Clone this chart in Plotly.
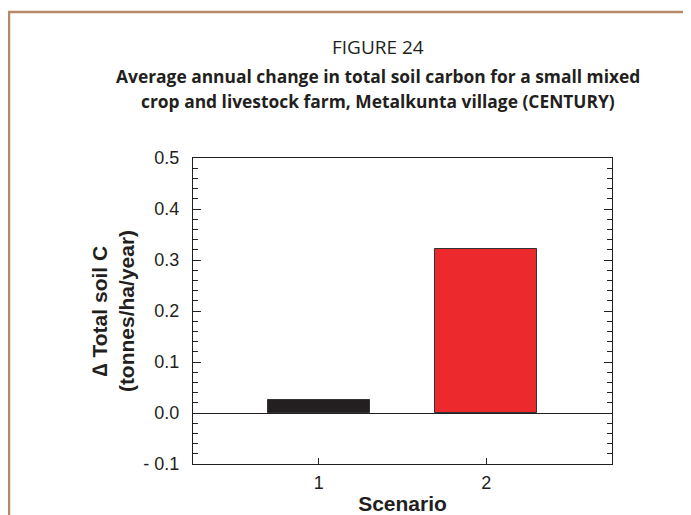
import plotly.graph_objects as go

scenarios = [1, 2]
delta_c = [0.026, 0.322]
bar_colors = ["#231f20", "#ec2a2e"]
y_tickvals = [-0.1, 0.0, 0.1, 0.2, 0.3, 0.4, 0.5]
y_ticktext = ["- 0.1", "0.0", "0.1", "0.2", "0.3", "0.4", "0.5"]

fig = go.Figure()
fig.add_trace(go.Bar(
    x=scenarios, y=delta_c, width=0.61,
    marker=dict(color=bar_colors, line=dict(color="#333333", width=1)),
    showlegend=False,
))

W, H = 691, 515
OFF = 8  # page offset of the figure in the screenshot
L, R, T, B = 193 - OFF, 691 - 612 + OFF, 158 - OFF, 515 - 464 + OFF
pw, ph = W - L - R, H - T - B

def px(x):
    return (x - OFF - L) / pw

def py(y):
    return (H - B - (y - OFF)) / ph

fig.update_layout(
    width=W, height=H,
    margin=dict(l=L, r=R, t=T, b=B),
    paper_bgcolor="white", plot_bgcolor="white",
    font=dict(family="Liberation Sans, Arial, sans-serif", color="#231f20"),
    bargap=0,
)
fig.update_xaxes(
    range=[0.25, 2.75], tickvals=scenarios, ticktext=["1", "2"],
    ticks="inside", ticklen=6, tickwidth=1.2, tickcolor="#231f20",
    showline=True, linecolor="#231f20", linewidth=1.3, mirror=True,
    showgrid=False, zeroline=False,
    tickfont=dict(size=18), ticklabelstandoff=2,
    title=dict(text="<b>Scenario</b>", font=dict(size=21), standoff=4),
)
fig.update_yaxes(
    range=[-0.1, 0.5], tickvals=y_tickvals, ticktext=y_ticktext,
    ticks="inside", ticklen=8, tickwidth=1.2, tickcolor="#231f20",
    minor=dict(dtick=0.02, ticks="inside", ticklen=5, tickwidth=1, tickcolor="#231f20"),
    showline=True, linecolor="#231f20", linewidth=1.3, mirror="ticks",
    showgrid=False, zeroline=True, zerolinecolor="#231f20", zerolinewidth=1.2,
    tickfont=dict(size=18), ticklabelstandoff=9,
    title=dict(text="<b>\u2206 Total soil C<br>(tonnes/ha/year)</b>", font=dict(size=21), standoff=2),
)

title_font = "Open Sans, sans-serif"
cx = px(378)
fig.add_annotation(text="FIGURE 24", xref="paper", yref="paper",
                   x=cx, y=py(47), yanchor="middle", showarrow=False,
                   font=dict(family=title_font, size=19, color="#231f20"))
fig.add_annotation(text="<b>Average annual change in total soil carbon for a small mixed</b>",
                   xref="paper", yref="paper", x=cx, y=py(76), yanchor="middle", showarrow=False,
                   font=dict(family=title_font, size=17.4, color="#231f20"))
fig.add_annotation(text="<b>crop and livestock farm, Metalkunta village (CENTURY)</b>",
                   xref="paper", yref="paper", x=cx, y=py(101), yanchor="middle", showarrow=False,
                   font=dict(family=title_font, size=17.4, color="#231f20"))

border = "#b48a6a"
fig.add_shape(type="line", xref="paper", yref="paper",
              x0=px(8), x1=px(720), y0=py(12), y1=py(12),
              line=dict(color=border, width=2.5))
fig.add_shape(type="line", xref="paper", yref="paper",
              x0=px(9), x1=px(9), y0=py(12), y1=py(540),
              line=dict(color=border, width=2.5))

fig.write_html("out.html")
